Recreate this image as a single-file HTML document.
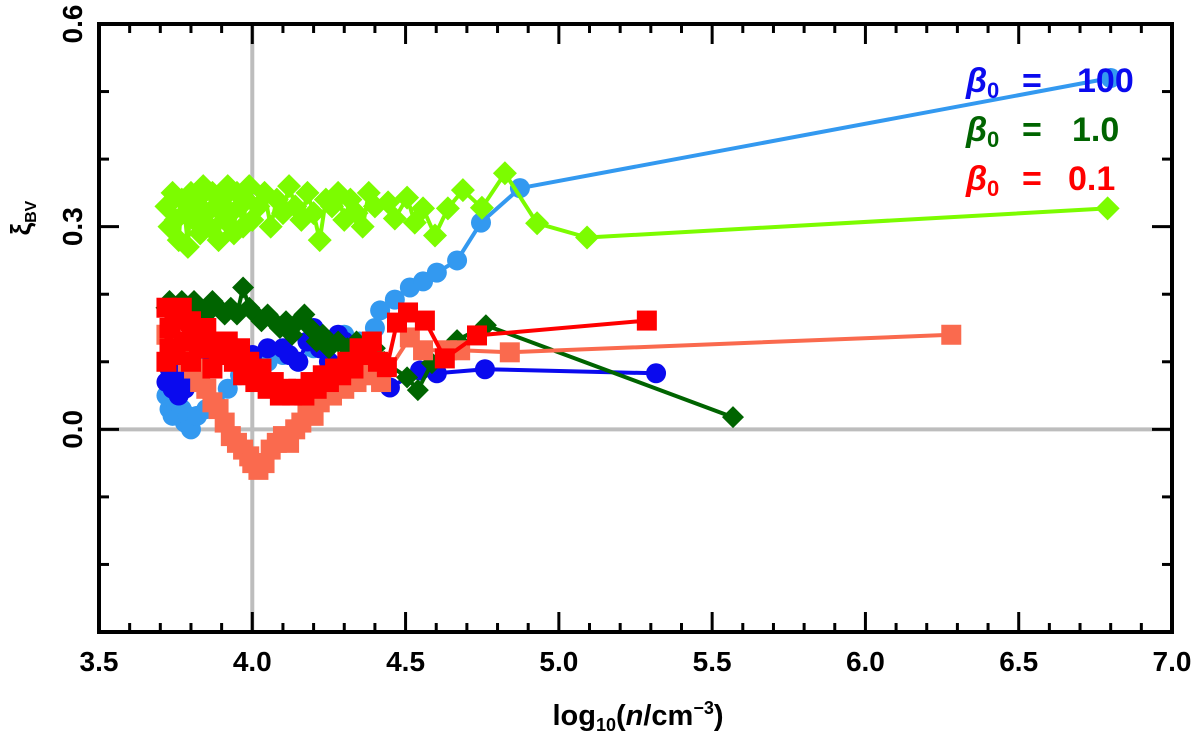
<!DOCTYPE html>
<html><head><meta charset="utf-8"><style>
html,body{margin:0;padding:0;background:#fff;}
svg{display:block;font-family:"Liberation Sans","DejaVu Sans",sans-serif;}
</style></head><body>
<svg id="chart" width="1200" height="737" viewBox="0 0 1200 737">
<g id="grid"></g><g id="series"></g><g id="axes"></g><g id="legend"></g>
</svg>
<script>
const xTicks=[3.5,4.0,4.5,5.0,5.5,6.0,6.5,7.0];
const xTickLabels=["3.5","4.0","4.5","5.0","5.5","6.0","6.5","7.0"];
const yTicks=[-0.3,0.0,0.3,0.6];
const yTickLabels=["","0.0","0.3","0.6"];
const lbX=[3.72,3.73,3.74,3.75,3.76,3.77,3.78,3.79,3.80,3.82,3.85,3.88,3.92,3.96,4.00,4.05,4.10,4.15,4.20,4.25,4.30,4.35,4.38,4.40,4.417,4.465,4.514,4.557,4.602,4.668,4.746,4.873,6.80];
const lbY=[0.05,0.03,0.02,0.04,0.02,0.03,0.01,0.02,0.00,0.02,0.03,0.04,0.06,0.08,0.09,0.10,0.11,0.10,0.12,0.13,0.14,0.13,0.12,0.15,0.176,0.192,0.210,0.219,0.232,0.250,0.306,0.357,0.52];
const dbX=[3.72,3.73,3.74,3.75,3.76,3.77,3.78,3.79,3.80,3.85,3.90,3.95,4.00,4.05,4.10,4.12,4.15,4.18,4.20,4.22,4.25,4.28,4.30,4.33,4.36,4.40,4.449,4.547,4.602,4.759,5.317];
const dbY=[0.07,0.09,0.06,0.08,0.05,0.07,0.06,0.09,0.08,0.10,0.11,0.12,0.11,0.12,0.12,0.11,0.10,0.13,0.15,0.12,0.10,0.14,0.13,0.12,0.10,0.08,0.062,0.087,0.083,0.089,0.083];
const lgX=[3.72,3.73,3.74,3.75,3.76,3.77,3.78,3.79,3.80,3.81,3.82,3.83,3.84,3.85,3.86,3.87,3.88,3.89,3.90,3.91,3.92,3.93,3.94,3.95,3.96,3.97,3.98,3.99,4.00,4.02,4.04,4.06,4.08,4.10,4.12,4.14,4.16,4.18,4.20,4.22,4.24,4.26,4.28,4.30,4.32,4.34,4.36,4.38,4.40,4.443,4.465,4.505,4.53,4.557,4.596,4.638,4.687,4.749,4.824,4.929,5.092,6.79];
const lgY=[0.33,0.30,0.35,0.31,0.28,0.34,0.32,0.27,0.35,0.31,0.34,0.29,0.36,0.32,0.30,0.35,0.33,0.28,0.34,0.31,0.36,0.32,0.29,0.35,0.33,0.30,0.34,0.36,0.31,0.33,0.35,0.30,0.34,0.32,0.36,0.33,0.31,0.35,0.32,0.28,0.34,0.33,0.35,0.31,0.34,0.32,0.30,0.35,0.33,0.336,0.312,0.343,0.306,0.327,0.287,0.327,0.354,0.328,0.379,0.305,0.284,0.327];
const dgX=[3.72,3.73,3.75,3.77,3.79,3.81,3.83,3.85,3.87,3.89,3.91,3.93,3.95,3.97,3.99,4.01,4.03,4.05,4.07,4.09,4.11,4.13,4.15,4.17,4.19,4.21,4.23,4.25,4.28,4.31,4.34,4.37,4.40,4.43,4.505,4.54,4.586,4.668,4.762,5.568];
const dgY=[0.18,0.19,0.17,0.19,0.18,0.19,0.18,0.17,0.19,0.18,0.17,0.18,0.17,0.21,0.18,0.17,0.16,0.17,0.16,0.15,0.16,0.14,0.16,0.17,0.15,0.13,0.14,0.12,0.13,0.12,0.13,0.11,0.12,0.10,0.077,0.058,0.098,0.132,0.154,0.018];
const smX=[3.72,3.73,3.75,3.77,3.79,3.81,3.83,3.85,3.87,3.89,3.91,3.93,3.95,3.97,3.99,4.00,4.02,4.04,4.06,4.08,4.10,4.12,4.14,4.16,4.18,4.20,4.22,4.24,4.26,4.28,4.30,4.32,4.34,4.36,4.38,4.40,4.42,4.514,4.557,4.635,4.678,4.84,6.28];
const smY=[0.14,0.11,0.13,0.12,0.10,0.09,0.07,0.06,0.04,0.03,0.01,-0.01,-0.02,-0.03,-0.04,-0.05,-0.06,-0.05,-0.03,-0.02,-0.01,-0.02,0.00,0.01,0.03,0.02,0.04,0.06,0.05,0.07,0.06,0.08,0.07,0.09,0.08,0.10,0.07,0.136,0.117,0.117,0.117,0.114,0.14];
const rdX=[3.72,3.72,3.73,3.73,3.75,3.75,3.77,3.78,3.80,3.80,3.82,3.84,3.85,3.87,3.88,3.90,3.92,3.94,3.96,3.97,3.99,4.01,4.03,4.05,4.07,4.09,4.11,4.13,4.15,4.17,4.19,4.21,4.23,4.25,4.27,4.29,4.31,4.33,4.35,4.37,4.39,4.41,4.439,4.472,4.508,4.563,4.628,4.733,5.287];
const rdY=[0.18,0.10,0.15,0.12,0.17,0.11,0.18,0.13,0.16,0.10,0.14,0.12,0.15,0.09,0.13,0.11,0.13,0.10,0.12,0.08,0.10,0.07,0.09,0.06,0.07,0.05,0.06,0.05,0.06,0.05,0.07,0.06,0.08,0.07,0.09,0.08,0.10,0.09,0.12,0.11,0.13,0.10,0.092,0.158,0.173,0.161,0.105,0.139,0.161];

const X0=99,X1=1172,Y0=24,Y1=632;
const sx=v=>X0+(v-3.5)/(7.0-3.5)*(X1-X0);
const sy=v=>Y1-(v+0.3)/(0.9)*(Y1-Y0);
const NS="http://www.w3.org/2000/svg";
function mk(tag,attrs,parent){const e=document.createElementNS(NS,tag);for(const k in attrs)e.setAttribute(k,attrs[k]);parent.appendChild(e);return e;}
const G=document.getElementById('grid'),S=document.getElementById('series'),A=document.getElementById('axes');

let gl=mk('line',{x1:sx(4.0),x2:sx(4.0),y1:Y0,y2:Y1,stroke:'#bdbdbd','stroke-width':4},G);


gl=mk('line',{x1:X0,x2:X1,y1:sy(0),y2:sy(0),stroke:'#bdbdbd','stroke-width':4},G);



function series(name,xs,ys,color,marker,size){
  const g=mk('g',{},S);
  
  
  const pts=xs.map((x,i)=>sx(x).toFixed(1)+','+sy(ys[i]).toFixed(1)).join(' ');
  mk('polyline',{points:pts,fill:'none',stroke:color,'stroke-width':4,'stroke-linejoin':'round'},g);
  xs.forEach((x,i)=>{
    const cx=sx(x),cy=sy(ys[i]);let m;
    if(marker==='circle')m=mk('circle',{cx:cx,cy:cy,r:size,fill:color},g);
    else if(marker==='square')m=mk('rect',{x:cx-size,y:cy-size,width:2*size,height:2*size,fill:color},g);
    else m=mk('polygon',{points:`${cx},${cy-size} ${cx+size},${cy} ${cx},${cy+size} ${cx-size},${cy}`,fill:color},g);
    
    
  });
}
series('beta100-light-series',lbX,lbY,'#3399f0','circle',10);
series('beta100-dark-series',dbX,dbY,'#0a0aee','circle',10);
series('beta1-light-series',lgX,lgY,'#7cfc00','diamond',12);
series('beta1-dark-series',dgX,dgY,'#006400','diamond',11);
series('beta01-light-series',smX,smY,'#fa6a4e','square',10);
series('beta01-dark-series',rdX,rdY,'#ff0000','square',10);

const box=mk('rect',{x:X0,y:Y0,width:X1-X0,height:Y1-Y0,fill:'none',stroke:'#000','stroke-width':4},A);


for(let i=0;i<=35;i++){
  const v=3.5+i*0.1,x=sx(v),major=(i%5===0),len=major?20:9;
  mk('line',{x1:x,x2:x,y1:Y1,y2:Y1-len,stroke:'#000','stroke-width':3},A);
  mk('line',{x1:x,x2:x,y1:Y0,y2:Y0+len,stroke:'#000','stroke-width':3},A);
}
for(let i=0;i<=9;i++){
  const v=-0.3+i*0.1,y=sy(v),major=(i%3===0),len=major?20:10;
  mk('line',{x1:X0,x2:X0+len,y1:y,y2:y,stroke:'#000','stroke-width':3},A);
  mk('line',{x1:X1,x2:X1-len,y1:y,y2:y,stroke:'#000','stroke-width':3},A);
}
xTicks.forEach((v,i)=>{
  const t=mk('text',{x:sx(v),y:671,'text-anchor':'middle','font-size':28,'font-weight':'bold',fill:'#000'},A);
  t.textContent=xTickLabels[i];
  
  
});
yTicks.forEach((v,i)=>{
  if(!yTickLabels[i])return;
  const y=sy(v);
  const t=mk('text',{x:0,y:0,transform:`translate(82,${y}) rotate(-90)`,'text-anchor':'middle','font-size':28,'font-weight':'bold',fill:'#000'},A);
  t.textContent=yTickLabels[i];
  
  
});
</script>
<svg style="position:absolute;left:0;top:0" width="1200" height="737">
<text x="638" y="725" text-anchor="middle" font-family="Liberation Sans,sans-serif" font-size="29" font-weight="bold">log<tspan font-size="18" dy="6">10</tspan><tspan dy="-6">(</tspan><tspan font-style="italic">n</tspan>/cm<tspan font-size="18" dy="-11">−3</tspan><tspan dy="11">)</tspan></text>
<text transform="translate(30,218) rotate(-90)" text-anchor="middle" font-family="Liberation Sans,DejaVu Sans,sans-serif" font-size="28" font-weight="bold">ξ<tspan font-size="16" dy="6">BV</tspan></text>
<g font-family="Liberation Sans,DejaVu Sans,sans-serif" font-size="34" font-weight="bold">
<g fill="#0a0aee">
<text x="966" y="92" font-style="italic">β</text><text x="987" y="98" font-size="22">0</text><text x="1022" y="92">=</text><text x="1077" y="92">100</text></g>
<g fill="#006400">
<text x="966" y="141" font-style="italic">β</text><text x="987" y="147" font-size="22">0</text><text x="1022" y="141">=</text><text x="1072" y="141">1.0</text></g>
<g fill="#ff0000">
<text x="966" y="190" font-style="italic">β</text><text x="987" y="196" font-size="22">0</text><text x="1022" y="190">=</text><text x="1068" y="190">0.1</text></g>
</g>
</svg>
</body></html>
